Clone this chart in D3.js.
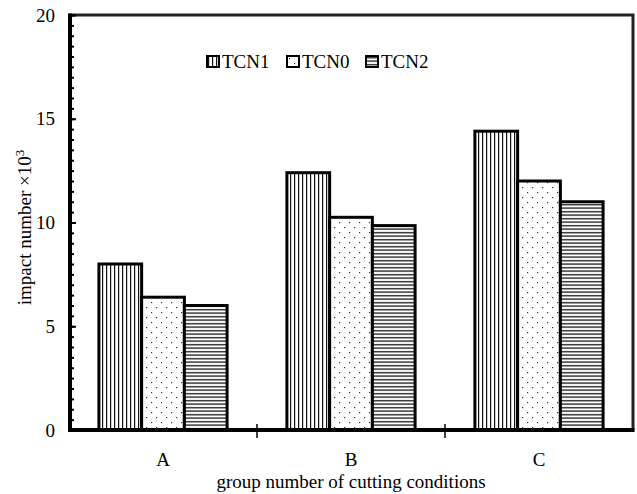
<!DOCTYPE html>
<html>
<head>
<meta charset="utf-8">
<script src="https://cdn.jsdelivr.net/npm/d3@7"></script>
<style>
  body { margin: 0; background: #fff; }
  text { font-family: "Liberation Serif", "Times New Roman", serif; fill: #000; }
</style>
</head>
<body>
<svg id="chart"></svg>
<script>
    var groups = ['A', 'B', 'C'];
    var series = ['TCN1', 'TCN0', 'TCN2'];
    var tcn1 = [8.0, 12.4, 14.4];
    var tcn0 = [6.4, 10.25, 12.0];
    var tcn2 = [6.0, 9.85, 11.0];
    var yTicks = [0, 5, 10, 15, 20];

    var width = 637;
    var height = 494;
    var fs = 19;
    var chart = d3.select('#chart')
        .attr('width', width)
        .attr('height', height);

    var values = { TCN1: tcn1, TCN0: tcn0, TCN2: tcn2 };
    var table = groups.map(function(g, i) {
        return { group: g, bars: series.map(function(s) { return { key: s, value: values[s][i] }; }) };
    });

    // -----------------------------------
    // patterns
    var defs = chart.append('defs');
    var pv = defs.append('pattern').attr('id', 'p-TCN1').attr('patternUnits', 'userSpaceOnUse')
        .attr('width', 4).attr('height', 4);
    pv.append('rect').attr('width', 4).attr('height', 4).attr('fill', '#fff');
    pv.append('rect').attr('x', 1).attr('width', 1.2).attr('height', 4).attr('fill', '#111');

    var pd = defs.append('pattern').attr('id', 'p-TCN0').attr('patternUnits', 'userSpaceOnUse')
        .attr('width', 10).attr('height', 10);
    pd.append('rect').attr('width', 10).attr('height', 10).attr('fill', '#fff');
    pd.append('rect').attr('x', 2).attr('y', 2).attr('width', 1.2).attr('height', 1.2).attr('fill', '#333');
    pd.append('rect').attr('x', 7).attr('y', 7).attr('width', 1.2).attr('height', 1.2).attr('fill', '#333');

    var ph = defs.append('pattern').attr('id', 'p-TCN2').attr('patternUnits', 'userSpaceOnUse')
        .attr('width', 4).attr('height', 3.5);
    ph.append('rect').attr('width', 4).attr('height', 3.5).attr('fill', '#fff');
    ph.append('rect').attr('y', 1).attr('width', 4).attr('height', 1.3).attr('fill', '#111');

    // -----------------------------------
    var x0 = d3.scaleBand().domain(groups).range([69, 633]).padding(0);
    var x1 = d3.scaleBand().domain(series).range([0, x0.bandwidth()]).paddingInner(0).paddingOuter(0.7);
    var y = d3.scaleLinear().domain([0, 20]).range([430, 15]);

    // frame (top and right)
    chart.append('path')
        .attr('d', 'M' + x0.range()[0] + ',' + y(20) + 'H' + x0.range()[1] + 'V' + y(0))
        .attr('fill', 'none').attr('stroke', '#222').attr('stroke-width', 3);

    // bars
    var g = chart.selectAll('.grp').data(table).enter().append('g')
        .attr('class', 'grp')
        .attr('transform', function(d) { return 'translate(' + x0(d.group) + ',0)'; });
    g.selectAll('rect').data(function(d) { return d.bars; }).enter().append('rect')
        .attr('x', function(d) { return x1(d.key); })
        .attr('y', function(d) { return y(d.value); })
        .attr('width', x1.bandwidth())
        .attr('height', function(d) { return y(0) - y(d.value); })
        .attr('fill', function(d) { return 'url(#p-' + d.key + ')'; })
        .attr('stroke', '#000').attr('stroke-width', 3);

    // y axis: minor ticks every 0.5, major every 5 (inside)
    var yAxisMinor = d3.axisRight(y).tickValues(d3.range(0, 20.01, 0.5)).tickSize(4).tickFormat('');
    chart.append('g').attr('transform', 'translate(70,0)').call(yAxisMinor)
        .call(function(s) { s.select('.domain').remove(); s.selectAll('line').attr('stroke-width', 2); });
    var yAxis = d3.axisLeft(y).tickValues(yTicks).tickSize(0).tickPadding(15);
    chart.append('g').attr('transform', 'translate(70,0)').call(yAxis)
        .call(function(s) {
            s.select('.domain').remove();
            s.selectAll('text').attr('font-size', fs).attr('font-family', '"Liberation Serif", serif');
        });
    chart.append('g').attr('transform', 'translate(70,0)')
        .call(d3.axisRight(y).tickValues(yTicks).tickSize(6).tickFormat(''))
        .call(function(s) { s.select('.domain').remove(); s.selectAll('line').attr('stroke-width', 2); });
    chart.append('line').attr('x1', 70).attr('x2', 70).attr('y1', y(20) - 1.5).attr('y2', y(0) + 2)
        .attr('stroke', '#000').attr('stroke-width', 4);

    // x axis
    var xAxis = d3.axisBottom(x0).tickSize(0).tickPadding(23);
    chart.append('g').attr('transform', 'translate(0,' + y(0) + ')').call(xAxis)
        .call(function(s) {
            s.select('.domain').remove();
            s.selectAll('text').attr('font-size', fs).attr('font-family', '"Liberation Serif", serif');
        });
    chart.append('line').attr('x1', 68).attr('x2', x0.range()[1] + 1.5).attr('y1', y(0)).attr('y2', y(0))
        .attr('stroke', '#000').attr('stroke-width', 4);
    chart.selectAll('.sep').data(groups.slice(1)).enter().append('line')
        .attr('class', 'sep')
        .attr('x1', function(d) { return x0(d); }).attr('x2', function(d) { return x0(d); })
        .attr('y1', y(0) - 6).attr('y2', y(0) + 8)
        .attr('stroke', '#000').attr('stroke-width', 1.5);

    // titles
    chart.append('text').attr('x', x0(groups[1]) + x0.bandwidth() / 2).attr('y', 488)
        .attr('text-anchor', 'middle').attr('font-size', fs)
        .text('group number of cutting conditions');
    var yt = chart.append('text').attr('transform', 'translate(31,' + (y(10) + 5) + ') rotate(-90)')
        .attr('text-anchor', 'middle').attr('font-size', fs);
    yt.append('tspan').text('impact number \u00d710');
    yt.append('tspan').attr('dy', -7).attr('font-size', 13).text('3');

    // legend
    var legendX = [207, 287, 366];
    var lg = chart.selectAll('.leg').data(series).enter().append('g')
        .attr('class', 'leg')
        .attr('transform', function(d, i) { return 'translate(' + legendX[i] + ',56)'; });
    lg.append('rect').attr('width', 12).attr('height', 11)
        .attr('fill', function(d) { return 'url(#p-' + d + ')'; })
        .attr('stroke', '#000').attr('stroke-width', 2);
    lg.append('text').attr('x', 15).attr('y', 11.5).attr('font-size', fs)
        .text(function(d) { return d; });
</script>
</body>
</html>
